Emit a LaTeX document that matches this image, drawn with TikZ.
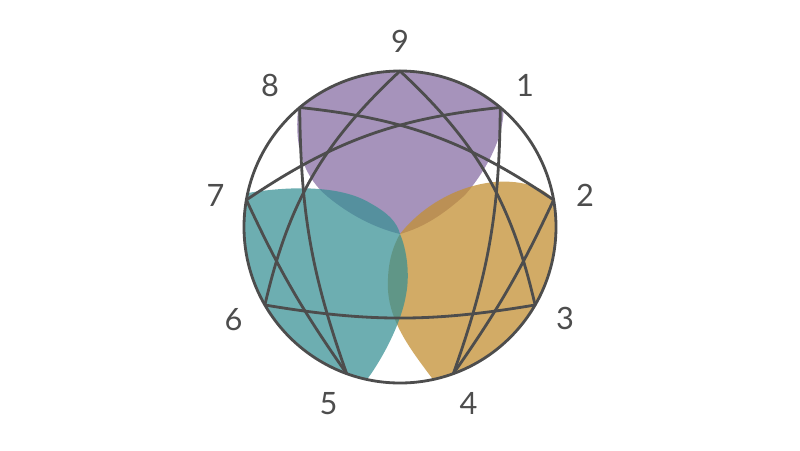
\documentclass[tikz,border=0pt]{standalone}
\usepackage{fontspec}
\setmainfont{Lato}
\definecolor{lineGray}{HTML}{4D4D4D}
\definecolor{typePurple}{HTML}{A693BB}
\definecolor{typeTeal}{RGB}{55,144,148}
\definecolor{typeGold}{RGB}{195,143,51}
\begin{document}
\begin{tikzpicture}[every node/.style={text=lineGray, font=\fontsize{17.5}{20}\selectfont}, chord/.style={draw=lineGray, line width=1.6pt}, line join=round, line cap=round]
	\useasboundingbox (-8,-4.46) rectangle (8,4.54);
	\coordinate (center) at (0,0);
	\coordinate (p9) at (90:3.12);
	\coordinate (p1) at (50:3.12);
	\coordinate (p2) at (10:3.12);
	\coordinate (p3) at (-30:3.12);
	\coordinate (p4) at (-70:3.12);
	\coordinate (p5) at (-110:3.12);
	\coordinate (p6) at (-150:3.12);
	\coordinate (p7) at (170:3.12);
	\coordinate (p8) at (130:3.12);
	\coordinate (tip) at (0,-0.14);
	\fill[typePurple] (130.8:3.12) arc[start angle=130.8, end angle=48.4, radius=3.12] .. controls (2.06,1.74) and (1.70,1.10) .. (1.30,0.64) .. controls (0.90,0.28) and (0.50,0) .. (tip) .. controls (-0.50,-0.02) and (-1.00,0.24) .. (-1.44,0.60) .. controls (-1.90,0.98) and (-2.12,1.54) .. cycle;
	\fill[typeGold, fill opacity=.75] (tip) .. controls (0.30,0.24) and (0.80,0.64) .. (1.46,0.82) .. controls (2.10,1.00) and (2.80,0.90) .. (p2) arc[start angle=10, end angle=-77.8, radius=3.12] .. controls (0.30,-2.56) and (-0.20,-1.96) .. (-0.24,-1.26) .. controls (-0.26,-0.76) and (-0.16,-0.42) .. cycle;
	\fill[typeTeal, fill opacity=.73] (257.8:3.12) arc[start angle=257.8, end angle=167.4, radius=3.12] .. controls (-2.20,0.82) and (-1.20,0.84) .. (-0.60,0.48) .. controls (-0.24,0.28) and (-0.06,0.10) .. (tip) .. controls (0.14,-0.46) and (0.20,-0.96) .. (0.12,-1.36) .. controls (0.04,-1.86) and (-0.30,-2.56) .. cycle;
	\draw[chord] (center) circle (3.12);
	\draw[chord] (p9) to[bend left=17] (p3);
	\draw[chord] (p3) to[bend left=9.5] (p6);
	\draw[chord] (p6) to[bend left=17] (p9);
	\draw[chord] (p1) to[bend left=9.5] (p4);
	\draw[chord] (p2) to[bend left=5] (p4);
	\draw[chord] (p8) to[bend left=14] (p2);
	\draw[chord] (p5) to[bend left=9.5] (p8);
	\draw[chord] (p5) to[bend left=5] (p7);
	\draw[chord] (p7) to[bend left=14] (p1);
	\node[] (num9) at (0,3.71) {9};
	\node[] (num1) at (2.5,2.84) {1};
	\node[] (num2) at (3.7,0.64) {2};
	\node[] (num3) at (3.3,-1.83) {3};
	\node[] (num4) at (1.37,-3.53) {4};
	\node[] (num5) at (-1.43,-3.53) {5};
	\node[] (num6) at (-3.33,-1.86) {6};
	\node[] (num7) at (-3.69,0.64) {7};
	\node[] (num8) at (-2.6,2.84) {8};
\end{tikzpicture}
\end{document}
